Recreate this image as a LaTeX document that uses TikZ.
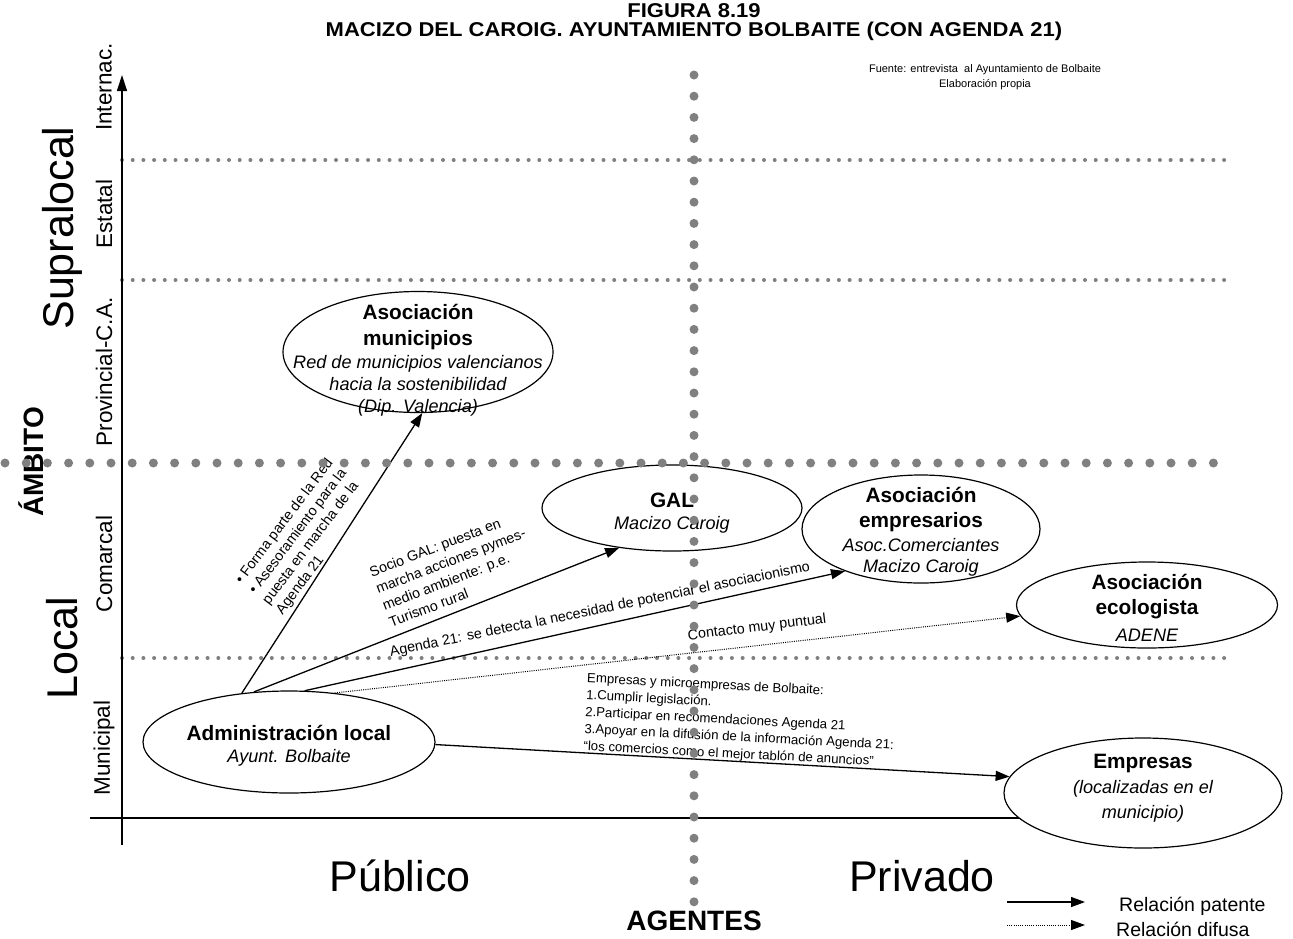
\documentclass[tikz,border=0pt]{standalone}
\usepackage{fontspec}
\setmainfont{Liberation Sans}
\newfontfamily\widefont{Liberation Sans}[FakeStretch=1.1]
\usetikzlibrary{shapes.geometric,arrows.meta}
\definecolor{dotgray}{RGB}{128,128,128}
\newcommand\fsz[2]{\fontsize{#1}{#2}\selectfont}
\tikzset{
  ell/.style={draw, ellipse, line width=1.2pt, fill=white, inner sep=0pt},
  ebold/.style={align=center, inner sep=0pt, font=\bfseries\fsz{20.8}{25}},
  eital/.style={align=center, inner sep=0pt, font=\itshape\fsz{18.1}{22}},
  rel/.style={line width=1.3pt, -{Triangle[length=14pt,width=10pt]}},
  rdif/.style={line width=1pt, dash pattern=on 1pt off 1.2pt, -{Triangle[length=14pt,width=10pt]}},
  axis/.style={line width=1.3pt, -{Triangle[length=16pt,width=10pt]}},
  bigdots/.style={draw=dotgray, line width=9pt, line cap=round, dash pattern=on 0pt off 21.2pt},
  smalldots/.style={draw=dotgray, line width=4pt, line cap=round, dash pattern=on 0pt off 10.7pt},
  lab/.style={align=left, inner sep=0pt, font=\fsz{14.3}{18}},
  lvl/.style={rotate=90, inner sep=0pt, font=\fsz{22.5}{26}},
  big/.style={inner sep=0pt, font=\fsz{43}{48}},
  ttl/.style={inner sep=0pt, font=\widefont\bfseries\fsz{20}{22}},
}
\begin{document}
\begin{tikzpicture}[x=1pt,y=-1pt]
\useasboundingbox (0,0) rectangle (1293,938);
\fill[white] (0,0) rectangle (1293,938);

% small dotted level lines
\coordinate (h1a) at (122,160); \coordinate (h1b) at (1230,160);
\coordinate (h2a) at (122,280); \coordinate (h2b) at (1230,280);
\coordinate (h3a) at (122,658); \coordinate (h3b) at (1230,658);
\draw[smalldots] (h1a) -- (h1b);
\draw[smalldots] (h2a) -- (h2b);
\draw[smalldots] (h3a) -- (h3b);

% axes
\coordinate (ya) at (122,845); \coordinate (yb) at (122,75);
\coordinate (xa) at (90,818);  \coordinate (xb) at (1195,818);
\draw[axis] (ya) -- (yb);
\draw[axis] (xa) -- (xb);

% title
\node[ttl] (t1) at (694,11) {FIGURA 8.19};
\node[ttl] (t2) at (694,31) {MACIZO DEL CAROIG. AYUNTAMIENTO BOLBAITE (CON AGENDA 21)};
\node[align=center, font=\fsz{11}{15.5}] (src) at (985,77) {Fuente: entrevista\ \ al Ayuntamiento de Bolbaite\\Elaboración propia};

% axis labels
\node[lvl] (lint) at (104,87) {Internac.};
\node[lvl] (lest) at (104,214) {Estatal};
\node[lvl] (lprov) at (104,372) {Provincial-C.A.};
\node[lvl] (lcom) at (104,564) {Comarcal};
\node[lvl] (lmun) at (104,748) {Municipal};
\node[big, rotate=90] (lsup) at (62,228) {Supralocal};
\node[big, rotate=90] (lloc) at (62,648) {Local};
\node[rotate=90, inner sep=0pt, font=\bfseries\fsz{28}{32}] (lamb) at (31,462) {ÁMBITO};
\node[big] (lpub) at (400,876) {Público};
\node[big] (lpriv) at (922,876) {Privado};
\node[inner sep=0pt, font=\bfseries\fsz{28}{32}] (lag) at (694,921) {AGENTES};

% ellipses
\node[ell, minimum width=270pt, minimum height=121pt] (asocmun) at (418,352) {};
\node[ebold, font=\bfseries\fsz{20.8}{26}] (asocmunB) at (418,327) {Asociación\\municipios};
\node[eital] (asocmunI) at (418,386) {Red de municipios valencianos\\hacia la sostenibilidad\\(Dip. Valencia)};
\node[ell, minimum width=260pt, minimum height=86pt] (gal) at (672,508) {};
\node[ebold] (galB) at (672,500) {GAL};
\node[eital] (galI) at (672,525) {Macizo Caroig};
\node[ell, minimum width=238pt, minimum height=108pt] (asocemp) at (921,529) {};
\node[ebold] (asocempB) at (921,510) {Asociación\\empresarios};
\node[eital, font=\itshape\fsz{18.1}{21}] (asocempI) at (921,557) {Asoc.Comerciantes\\Macizo Caroig};
\node[ell, minimum width=261pt, minimum height=86pt] (eco) at (1147,605) {};
\node[ebold] (ecoB) at (1147,597) {Asociación\\ecologista};
\node[eital] (ecoI) at (1147,635) {ADENE};
\node[ell, minimum width=292pt, minimum height=102pt] (admin) at (289,742) {};
\node[ebold] (adminB) at (289,733) {Administración local};
\node[eital] (adminI) at (289,758) {Ayunt. Bolbaite};
\node[ell, minimum width=278pt, minimum height=110pt] (empr) at (1143,793) {};
\node[ebold] (emprB) at (1143,763) {Empresas};
\node[eital, font=\itshape\fsz{18.1}{25}] (emprI) at (1143,801) {(localizadas en el\\municipio)};

% relations
\draw[rel] (admin.134) -- (asocmun.-86);
\draw[rel] (admin.125) -- (gal.217);
\draw[rel] (admin.73) -- (asocemp.209);
\draw[rdif] (admin.47) -- (eco.185);
\draw[rel] (admin.-1) -- (empr.173);

% relation labels
\node[lab, rotate=53, font=\fsz{14.3}{17}] (lab1) at (305,537) {• Forma parte de la Red\\• Asesoramiento para la\\puesta en marcha de la\\Agenda 21};
\node[lab, rotate=21] (lab2) at (454,569) {Socio GAL: puesta en\\marcha acciones pymes-\\medio ambiente: p.e.\\Turismo rural};
\node[lab, rotate=11.5] (lab3) at (600,610) {Agenda 21: se detecta la necesidad de potenciar el asociacionismo};
\node[lab, rotate=7] (lab4) at (757,628) {Contacto muy puntual};
\node[lab, rotate=-3, font=\fsz{13.2}{17}] (lab5) at (740,721) {Empresas y microempresas de Bolbaite:\\1.Cumplir legislación.\\2.Participar en recomendaciones Agenda 21\\3.Apoyar en la difusión de la información Agenda 21:\\“los comercios como el mejor tablón de anuncios”};

% big dotted axes
\coordinate (va) at (694,75); \coordinate (vb) at (694,920);
\coordinate (ha) at (5,463); \coordinate (hb) at (1215,463);
\draw[bigdots] (ha) -- (hb);
\draw[bigdots] (va) -- (vb);

% legend
\coordinate (lg1a) at (1007,902); \coordinate (lg1b) at (1085,902);
\coordinate (lg2a) at (1007,925); \coordinate (lg2b) at (1085,925);
\draw[rel] (lg1a) -- (lg1b);
\draw[rdif] (lg2a) -- (lg2b);
\node[inner sep=0pt, font=\fsz{19.5}{22}, anchor=west] (lgt1) at (1119,906) {Relación patente};
\node[inner sep=0pt, font=\fsz{19.5}{22}, anchor=west] (lgt2) at (1116,929) {Relación difusa};
\end{tikzpicture}
\end{document}
